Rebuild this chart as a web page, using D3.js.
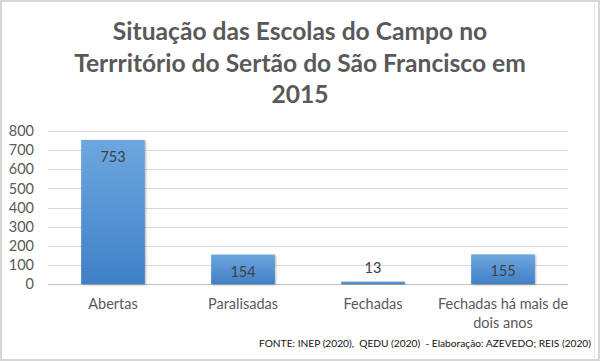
<!DOCTYPE html>
<html>
<head>
<meta charset="utf-8">
<script src="https://cdn.jsdelivr.net/npm/d3@7"></script>
<style>
  body { margin: 0; background: #fff; }
  svg { display: block; font-family: Lato, "Open Sans", sans-serif; }
</style>
</head>
<body>
<svg width="600" height="361"></svg>
<script>
var categories = ['Abertas', 'Paralisadas', 'Fechadas', 'Fechadas há mais de|dois anos'];
var values = [753, 154, 13, 155];
var yTicks = [0, 100, 200, 300, 400, 500, 600, 700, 800];
var titleLines = ['Situação das Escolas do Campo no', 'Terrritório do Sertão do São Francisco em', '2015'];
var source = 'FONTE: INEP (2020),  QEDU (2020)  - Elaboração: AZEVEDO; REIS (2020)';

var width = 600, height = 361;
var margin = {top: 131, right: 32, bottom: 77, left: 48};

var svg = d3.select('svg');

// frame
svg.append('rect')
  .attr('x', 1).attr('y', 1).attr('width', width - 2).attr('height', height - 2)
  .attr('fill', 'none').attr('stroke', '#d6d6d6').attr('stroke-width', 2);
svg.append('line')
  .attr('x1', 594.5).attr('x2', 594.5).attr('y1', 3).attr('y2', height - 3)
  .attr('stroke', '#e6e6e6');

var defs = svg.append('defs');
var grad = defs.append('linearGradient').attr('id', 'barGrad')
  .attr('x1', 0).attr('y1', 0).attr('x2', 0).attr('y2', 1);
grad.append('stop').attr('offset', '0%').attr('stop-color', '#6ea7df');
grad.append('stop').attr('offset', '100%').attr('stop-color', '#3f80c6');

var filter = defs.append('filter').attr('id', 'shadow')
  .attr('x', '-10%').attr('y', '-10%').attr('width', '130%').attr('height', '130%');
filter.append('feDropShadow').attr('dx', 1).attr('dy', 1).attr('stdDeviation', 1.2)
  .attr('flood-color', '#000').attr('flood-opacity', 0.3);

// title
svg.append('g').selectAll('text')
  .data(titleLines)
  .enter().append('text')
  .attr('x', 300)
  .attr('y', function(d, i) { return 40 + i * 31.5; })
  .attr('text-anchor', 'middle')
  .attr('font-size', 24.6)
  .attr('font-weight', 'bold')
  .attr('fill', '#595959')
  .text(function(d) { return d; });

var x = d3.scaleBand()
  .domain(categories)
  .range([margin.left, width - margin.right])
  .paddingInner(0.51)
  .paddingOuter(0.255);

var y = d3.scaleLinear()
  .domain([0, 800])
  .range([height - margin.bottom, margin.top]);

// gridlines
svg.append('g').selectAll('line')
  .data(yTicks)
  .enter().append('line')
  .attr('x1', margin.left).attr('x2', width - margin.right)
  .attr('y1', function(d) { return Math.round(y(d)) + 0.5; })
  .attr('y2', function(d) { return Math.round(y(d)) + 0.5; })
  .attr('stroke', function(d) { return d === 0 ? '#bfbfbf' : '#d9d9d9'; })
  .attr('stroke-width', 1);

// y axis labels
var yAxis = d3.axisLeft(y).tickValues(yTicks).tickSize(0).tickPadding(14);
var ya = svg.append('g')
  .attr('transform', 'translate(' + margin.left + ',0)')
  .call(yAxis);
ya.select('.domain').remove();
ya.selectAll('text')
  .attr('font-family', 'Lato, "Open Sans", sans-serif')
  .attr('font-size', 14.5)
  .attr('fill', '#595959');

// bars
svg.append('g').selectAll('rect')
  .data(values)
  .enter().append('rect')
  .attr('x', function(d, i) { return x(categories[i]); })
  .attr('y', function(d) { return y(d); })
  .attr('width', x.bandwidth())
  .attr('height', function(d) { return y(0) - y(d); })
  .attr('fill', 'url(#barGrad)')
  .attr('filter', 'url(#shadow)');

// value labels
svg.append('g').selectAll('text')
  .data(values)
  .enter().append('text')
  .attr('x', function(d, i) { return x(categories[i]) + x.bandwidth() / 2; })
  .attr('y', function(d) { return d < 50 ? y(d) - 9 : y(d) + 22; })
  .attr('text-anchor', 'middle')
  .attr('font-size', 14.5)
  .attr('fill', '#404040')
  .text(function(d) { return d; });

// category labels
var cat = svg.append('g').selectAll('text')
  .data(categories)
  .enter().append('text')
  .attr('x', function(d) { return x(d) + x.bandwidth() / 2; })
  .attr('y', 309)
  .attr('text-anchor', 'middle')
  .attr('font-size', 14.5)
  .attr('fill', '#595959');
cat.selectAll('tspan')
  .data(function(d) { return d.split('|'); })
  .enter().append('tspan')
  .attr('x', function() { return d3.select(this.parentNode).attr('x'); })
  .attr('dy', function(d, i) { return i === 0 ? 0 : 19; })
  .text(function(d) { return d; });

// source
svg.append('text')
  .attr('x', 591)
  .attr('y', 347)
  .attr('text-anchor', 'end')
  .attr('font-size', 10.2)
  .attr('fill', '#111')
  .style('white-space', 'pre')
  .text(source);
</script>
</body>
</html>
